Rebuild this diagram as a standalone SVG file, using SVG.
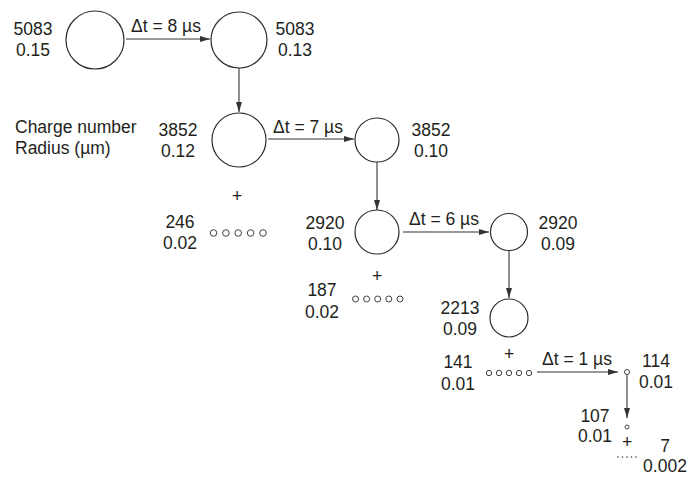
<svg xmlns="http://www.w3.org/2000/svg" width="688" height="477" viewBox="0 0 688 477">
<defs>
<style>
text{font-family:"Liberation Sans",Arial,sans-serif;font-size:17.5px;fill:#231f20}
.m{text-anchor:middle}
.node{fill:none;stroke:#2b2b2b;stroke-width:1.2}
.sm{fill:none;stroke:#444;stroke-width:1}
.conn line{stroke:#333;stroke-width:1.1}
.dot{fill:#444}
</style>
<marker id="ah" markerWidth="10" markerHeight="6" refX="10" refY="3" orient="auto" markerUnits="userSpaceOnUse">
<path d="M0,0 L10,3 L0,6 Z" fill="#333"/>
</marker>
</defs>
<rect width="688" height="477" fill="#fff"/>

<g id="connectors" class="conn">
<line x1="126" y1="39" x2="210" y2="39" marker-end="url(#ah)"/>
<line x1="239" y1="68" x2="239" y2="112" marker-end="url(#ah)"/>
<line x1="268" y1="139" x2="354" y2="139" marker-end="url(#ah)"/>
<line x1="377" y1="162" x2="377" y2="210" marker-end="url(#ah)"/>
<line x1="403" y1="232" x2="489" y2="232" marker-end="url(#ah)"/>
<line x1="509" y1="251" x2="509" y2="298" marker-end="url(#ah)"/>
<line x1="537" y1="372" x2="618" y2="372" marker-end="url(#ah)"/>
<line x1="627" y1="375" x2="627" y2="418" marker-end="url(#ah)"/>
</g>

<g id="edge-labels">
<text class="m" x="166" y="32">Δt = 8 µs</text>
<text class="m" x="308" y="133">Δt = 7 µs</text>
<text class="m" x="444" y="225">Δt = 6 µs</text>
<text class="m" x="577" y="365">Δt = 1 µs</text>
</g>

<g id="legend">
<text x="15" y="133">Charge number</text>
<text x="15" y="154">Radius (µm)</text>
</g>

<g id="nodeA">
<circle class="node" cx="95" cy="40" r="29"/>
<text class="m" x="33" y="35">5083</text>
<text class="m" x="33" y="56">0.15</text>
</g>

<g id="nodeB">
<circle class="node" cx="239" cy="40" r="28"/>
<text class="m" x="295" y="35">5083</text>
<text class="m" x="295" y="56">0.13</text>
</g>

<g id="nodeC">
<circle class="node" cx="239" cy="140" r="27"/>
<text class="m" x="178" y="136">3852</text>
<text class="m" x="178" y="157">0.12</text>
</g>

<g id="nodeD">
<circle class="node" cx="377" cy="140" r="22"/>
<text class="m" x="431" y="136">3852</text>
<text class="m" x="431" y="157">0.10</text>
</g>

<g id="fragments1">
<text class="m" x="237" y="202">+</text>
<text class="m" x="180" y="228">246</text>
<text class="m" x="180" y="249">0.02</text>
<circle class="sm" cx="213.5" cy="233" r="3.3"/>
<circle class="sm" cx="225.9" cy="233" r="3.3"/>
<circle class="sm" cx="238.2" cy="233" r="3.3"/>
<circle class="sm" cx="250.6" cy="233" r="3.3"/>
<circle class="sm" cx="263" cy="233" r="3.3"/>
</g>

<g id="nodeE">
<circle class="node" cx="377" cy="232" r="22"/>
<text class="m" x="325" y="229">2920</text>
<text class="m" x="325" y="250">0.10</text>
</g>

<g id="nodeF">
<circle class="node" cx="509" cy="232" r="18.5"/>
<text class="m" x="558" y="229">2920</text>
<text class="m" x="558" y="250">0.09</text>
</g>

<g id="fragments2">
<text class="m" x="377" y="282">+</text>
<text class="m" x="322" y="296">187</text>
<text class="m" x="322" y="318">0.02</text>
<circle class="sm" cx="355.5" cy="299" r="3"/>
<circle class="sm" cx="366.6" cy="299" r="3"/>
<circle class="sm" cx="377.7" cy="299" r="3"/>
<circle class="sm" cx="388.8" cy="299" r="3"/>
<circle class="sm" cx="400" cy="299" r="3"/>
</g>

<g id="nodeG">
<circle class="node" cx="509" cy="318" r="19"/>
<text class="m" x="460" y="314">2213</text>
<text class="m" x="460" y="335">0.09</text>
</g>

<g id="fragments3">
<text class="m" x="509" y="360">+</text>
<text class="m" x="458" y="368">141</text>
<text class="m" x="458" y="390">0.01</text>
<circle class="sm" cx="489" cy="373" r="2.7"/>
<circle class="sm" cx="499" cy="373" r="2.7"/>
<circle class="sm" cx="509" cy="373" r="2.7"/>
<circle class="sm" cx="519" cy="373" r="2.7"/>
<circle class="sm" cx="529" cy="373" r="2.7"/>
</g>

<g id="nodeH">
<circle class="sm" cx="627" cy="372" r="2.5"/>
<text class="m" x="656" y="367">114</text>
<text class="m" x="656" y="388">0.01</text>
</g>

<g id="nodeI">
<circle class="sm" cx="627" cy="427" r="2"/>
<text class="m" x="595" y="422">107</text>
<text class="m" x="595" y="442">0.01</text>
</g>

<g id="fragments4">
<text class="m" x="627" y="448">+</text>
<circle class="dot" cx="618" cy="457" r="0.8"/>
<circle class="dot" cx="622.5" cy="457" r="0.8"/>
<circle class="dot" cx="627" cy="457" r="0.8"/>
<circle class="dot" cx="631.5" cy="457" r="0.8"/>
<circle class="dot" cx="636" cy="457" r="0.8"/>
<text class="m" x="665" y="452">7</text>
<text class="m" x="665" y="472">0.002</text>
</g>
</svg>
